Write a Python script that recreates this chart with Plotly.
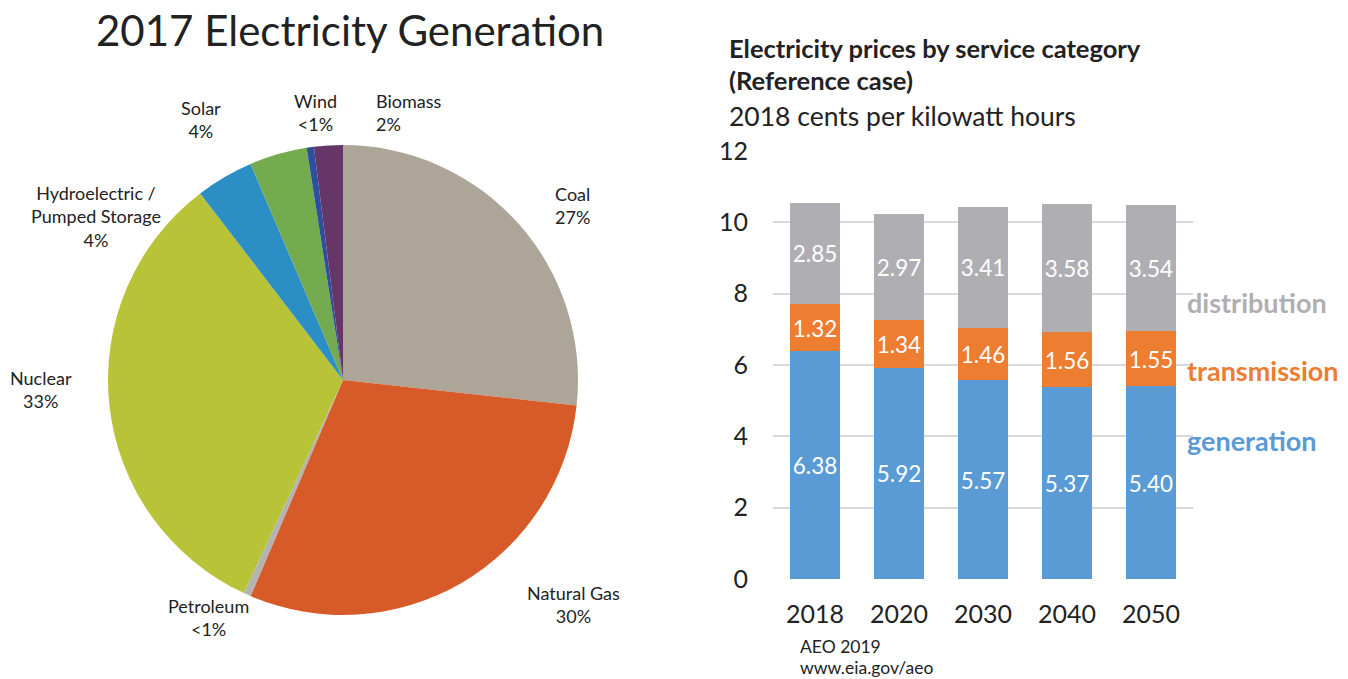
import plotly.graph_objects as go

# --- 2017 generation mix (percent share) ---
sources = ["Coal", "Natural Gas", "Petroleum", "Nuclear",
           "Hydroelectric / Pumped Storage", "Solar", "Wind", "Biomass"]
shares = [27, 30, 0.5, 33, 4, 4, 0.5, 2]
share_labels = ["27%", "30%", "<1%", "33%", "4%", "4%", "<1%", "2%"]
pie_colors = ["#ADA698", "#D65B28", "#B3B3B3", "#B9C337",
              "#2B8FC5", "#73AB4E", "#2D4F9E", "#663668"]

# --- electricity prices by service category (2018 cents/kWh) ---
years = ["2018", "2020", "2030", "2040", "2050"]
generation = [6.38, 5.92, 5.57, 5.37, 5.40]
transmission = [1.32, 1.34, 1.46, 1.56, 1.55]
distribution = [2.85, 2.97, 3.41, 3.58, 3.54]
y_ticks = [0, 2, 4, 6, 8, 10, 12]

W, H = 1348, 679
pie_font = "Lato"
bar_font = "Lato"

fig = go.Figure()

fig.add_trace(go.Pie(
    labels=sources, values=shares, sort=False, direction="clockwise",
    rotation=0, marker=dict(colors=pie_colors, line=dict(width=0)),
    textinfo="none", hoverinfo="label+percent", showlegend=False,
    domain=dict(x=[108 / W, 578 / W], y=[64 / H, 534 / H]),
))

bar_series = [("generation", generation, "#5B9BD5"),
              ("transmission", transmission, "#ED7D31"),
              ("distribution", distribution, "#AFAFB3")]
for name, vals, col in bar_series:
    fig.add_trace(go.Bar(
        x=years, y=vals, name=name, marker=dict(color=col, line=dict(width=0)),
        width=0.6, text=[f"{v:.2f}" for v in vals], textposition="inside",
        insidetextanchor="middle", textangle=0,
        textfont=dict(family=bar_font, size=24, color="white"),
        showlegend=False, xaxis="x", yaxis="y",
    ))

fig.update_layout(
    width=W, height=H, margin=dict(l=0, r=0, t=0, b=0, autoexpand=False),
    paper_bgcolor="white", plot_bgcolor="white", barmode="stack",
    xaxis=dict(domain=[773 / W, 1193 / W], range=[-0.5, 4.5], showgrid=False,
               showline=False, zeroline=False, ticks="", automargin=False,
               tickfont=dict(family=bar_font, size=25, color="#222222"),
               ticklabelstandoff=18),
    yaxis=dict(domain=[100 / H, 528 / H], range=[0, 12], tickvals=y_ticks,
               showgrid=True, gridcolor="#D9D9D9", gridwidth=1.5,
               zeroline=False, showline=False, ticks="", automargin=False,
               tickfont=dict(family=bar_font, size=25, color="#222222"),
               ticklabelstandoff=24),
)

ann = []

def label(x, y, text, size=18, align="center", xanchor="center", font=pie_font,
          color="#222222", bold=False):
    t = f"<b>{text}</b>" if bold else text
    ann.append(dict(x=x / W, y=1 - y / H, xref="paper", yref="paper", text=t,
                    showarrow=False, xanchor=xanchor, yanchor="middle", align=align,
                    font=dict(family=font, size=size, color=color)))

label(350, 30, "2017 Electricity Generation", size=42)

pie_label_pos = {
    "Coal": (572, 205, "center", "center"),
    "Natural Gas": (573, 604, "center", "center"),
    "Petroleum": (208, 617, "center", "center"),
    "Nuclear": (41, 390, "center", "center"),
    "Hydroelectric / Pumped Storage": (96, 216, "center", "center"),
    "Solar": (201, 119, "center", "center"),
    "Wind": (315, 113, "center", "center"),
    "Biomass": (374, 113, "left", "left"),
}
for src, pct in zip(sources, share_labels):
    x, y, al, xa = pie_label_pos[src]
    name = "Hydroelectric /<br>Pumped Storage" if src.startswith("Hydro") else src
    label(x, y, f"{name}<br>{pct}", align=al, xanchor=xa)

label(727, 48, "Electricity prices by service category", size=25.5, xanchor="left",
      align="left", font=bar_font, bold=True)
label(727, 80, "(Reference case)", size=25.5, xanchor="left", align="left",
      font=bar_font, bold=True)
label(727, 116, "2018 cents per kilowatt hours", size=26.5, xanchor="left",
      align="left", font=bar_font)

label(1185, 302, "distribution", size=27, xanchor="left", font=bar_font,
      color="#AFAFB3", bold=True)
label(1185, 371, "transmission", size=27, xanchor="left", font=bar_font,
      color="#ED7D31", bold=True)
label(1185, 440, "generation", size=27, xanchor="left", font=bar_font,
      color="#5B9BD5", bold=True)

label(798, 646, "AEO 2019", size=17.5, xanchor="left", font=bar_font)
label(798, 667, "www.eia.gov/aeo", size=17.5, xanchor="left", font=bar_font)

fig.update_layout(annotations=ann)
fig.write_html("out.html")
